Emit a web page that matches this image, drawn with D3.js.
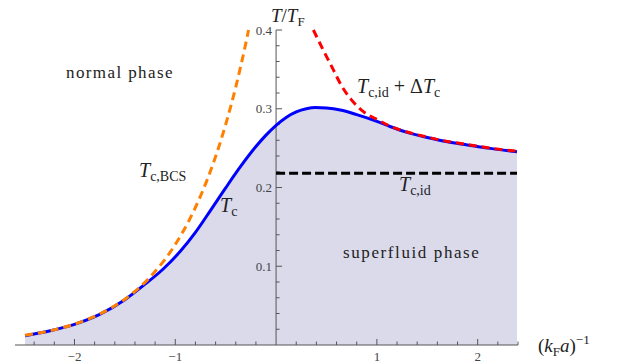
<!DOCTYPE html>
<html>
<head>
<script src="https://cdnjs.cloudflare.com/ajax/libs/d3/7.8.5/d3.min.js"></script>
<style>
  body { margin: 0; background: #fff; }
  svg text { fill: #222; }
  svg text.tick { font-size: 13px; fill: #444; }
</style>
</head>
<body>
<div id="vis"></div>
<script>
var w = 620, h = 364;

// T_c (blue, solid)
var tcX = [-2.49, -2.25, -2.0, -1.75, -1.5, -1.3, -1.12, -0.95, -0.8, -0.65, -0.5, -0.35, -0.2, -0.1, 0.0, 0.1, 0.2, 0.3, 0.39, 0.5, 0.65, 0.8, 1.0, 1.13, 1.3, 1.5, 1.7, 1.9, 2.1, 2.39];
var tcY = [0.0118, 0.0178, 0.0262, 0.0388, 0.0575, 0.0772, 0.0965, 0.119, 0.143, 0.171, 0.1995, 0.227, 0.252, 0.2665, 0.279, 0.289, 0.296, 0.300, 0.3015, 0.301, 0.298, 0.2925, 0.284, 0.2775, 0.270, 0.2635, 0.258, 0.254, 0.250, 0.2455];

// T_c,BCS (orange, dashed)
var bcsX = [-2.49, -2.25, -2.0, -1.75, -1.5, -1.25, -1.0, -0.875, -0.75, -0.625, -0.5, -0.4, -0.3, -0.273];
var bcsY = [0.0123, 0.0179, 0.0265, 0.0393, 0.0582, 0.0862, 0.1277, 0.1553, 0.189, 0.230, 0.280, 0.3276, 0.3833, 0.400];

// T_c,id + dT_c (red, dashed)
var idcX = [0.37, 0.47, 0.57, 0.65, 0.75, 0.87, 1.0, 1.13, 1.3, 1.5, 1.7, 1.9, 2.1, 2.39];
var idcY = [0.400, 0.374, 0.349, 0.329, 0.311, 0.296, 0.2865, 0.278, 0.2705, 0.264, 0.2585, 0.2545, 0.2505, 0.246];

// T_c,id (black, dashed)
var idX = [0.0, 2.39];
var idY = [0.218, 0.218];

var xMajor = [-2, -1, 1, 2];
var xMajorLabels = ["\u22122", "\u22121", "1", "2"];
var yMajor = [0.1, 0.2, 0.3, 0.4];
var yMajorLabels = ["0.1", "0.2", "0.3", "0.4"];

var serif = "'Liberation Serif', 'DejaVu Serif', serif";

var svg = d3.select("#vis").append("svg")
    .attr("width", w).attr("height", h)
    .attr("viewBox", [0, 0, w, h])
    .attr("font-family", serif);

var x = d3.scaleLinear().domain([-2.59, 2.40]).range([15, 518]);
var y = d3.scaleLinear().domain([0, 0.4]).range([345, 30]);

function pts(xs, ys) { return xs.map((v, i) => [v, ys[i]]); }

var line = d3.line().x(d => x(d[0])).y(d => y(d[1])).curve(d3.curveMonotoneX);
var area = d3.area().x(d => x(d[0])).y0(y(0)).y1(d => y(d[1])).curve(d3.curveMonotoneX);

// shaded superfluid region
svg.append("path")
    .attr("d", area(pts(tcX, tcY)))
    .attr("fill", "#dadaeb");

// axes
var ax = svg.append("g").attr("stroke", "#555").attr("stroke-width", 1);
ax.append("line").attr("x1", x(-2.59)).attr("x2", x(2.40)).attr("y1", y(0)).attr("y2", y(0));
ax.append("line").attr("x1", x(0)).attr("x2", x(0)).attr("y1", y(0)).attr("y2", y(0.4));

var xTicks = d3.range(-12, 13).map(i => i / 5).filter(v => Math.abs(v) > 1e-9);
ax.selectAll("line.xt").data(xTicks).join("line").attr("class", "xt")
    .attr("x1", d => x(d)).attr("x2", d => x(d))
    .attr("y1", y(0))
    .attr("y2", d => y(0) - (Math.abs(d - Math.round(d)) < 1e-9 ? 6 : 3.5));

var yTicks = d3.range(1, 21).map(i => i / 50);
ax.selectAll("line.yt").data(yTicks).join("line").attr("class", "yt")
    .attr("x1", x(0))
    .attr("x2", (d, i) => x(0) + ((i + 1) % 5 == 0 ? 6 : 3.5))
    .attr("y1", d => y(d)).attr("y2", d => y(d));

svg.selectAll("text.xl").data(xMajor).join("text").attr("class", "tick")
    .attr("x", d => x(d)).attr("y", 361)
    .attr("text-anchor", "middle")
    .text((d, i) => xMajorLabels[i]);

svg.selectAll("text.yl").data(yMajor).join("text").attr("class", "tick")
    .attr("x", x(0) - 4).attr("y", d => y(d) + 4.5)
    .attr("text-anchor", "end")
    .text((d, i) => yMajorLabels[i]);

// curves
svg.append("path").attr("d", line(pts(tcX, tcY)))
    .attr("fill", "none").attr("stroke", "#0000ff").attr("stroke-width", 3);
svg.append("path").attr("d", line(pts(bcsX, bcsY)))
    .attr("fill", "none").attr("stroke", "#ff8000").attr("stroke-width", 3)
    .attr("stroke-dasharray", "8,5");
svg.append("path").attr("d", line(pts(idcX, idcY)))
    .attr("fill", "none").attr("stroke", "#ff0000").attr("stroke-width", 3)
    .attr("stroke-dasharray", "8,5");
svg.append("path").attr("d", d3.line().x(d => x(d[0])).y(d => y(d[1]))(pts(idX, idY)))
    .attr("fill", "none").attr("stroke", "#000").attr("stroke-width", 3)
    .attr("stroke-dasharray", "9,4");

// labels
function label(xp, yp, parts, size, anchor) {
    var t = svg.append("text").attr("x", xp).attr("y", yp)
        .attr("font-size", size).attr("text-anchor", anchor || "start");
    parts.forEach(p => {
        var s = t.append("tspan").text(p.t);
        if (p.italic) s.attr("font-style", "italic");
        if (p.dy) s.attr("dy", p.dy);
        if (p.dx) s.attr("dx", p.dx);
        if (p.size) s.attr("font-size", p.size);
        if (p.ls) s.attr("letter-spacing", p.ls);
    });
    return t;
}

label(66, 78, [{t: "normal phase", ls: 1.4}], 17);
label(343, 258, [{t: "superfluid phase", ls: 1.6}], 17);

label(139, 177, [{t: "T", italic: true}, {t: "c,BCS", size: 14, dy: 4}], 20);
label(220, 212, [{t: "T", italic: true}, {t: "c", size: 14, dy: 4}], 20);
label(399, 191, [{t: "T", italic: true}, {t: "c,id", size: 14, dy: 4}], 20);
label(357, 93, [{t: "T", italic: true}, {t: "c,id", size: 14, dy: 4},
    {t: "+", dy: -4, dx: 5}, {t: "\u0394", dx: 5}, {t: "T", italic: true}, {t: "c", size: 14, dy: 4}], 20);

label(271, 22, [{t: "T", italic: true}, {t: "/"}, {t: "T", italic: true}, {t: "F", size: 13, dy: 4}], 19);
label(538, 352, [{t: "("}, {t: "k", italic: true}, {t: "F", size: 13, dy: 4},
    {t: "a", italic: true, dy: -4}, {t: ")"}, {t: "\u22121", size: 13, dy: -8}], 19);
</script>
</body>
</html>
